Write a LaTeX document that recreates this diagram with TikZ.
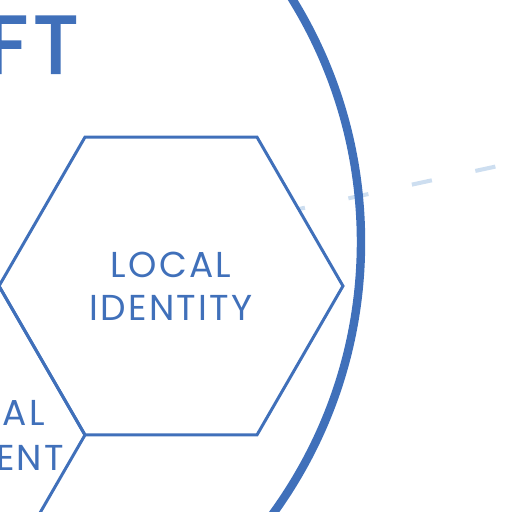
\documentclass[tikz,border=0pt]{standalone}
\usepackage{fontspec}
\setmainfont{Poppins}
\usepackage{tikz}
\usetikzlibrary{shapes.geometric}
\definecolor{inkblue}{RGB}{64,112,186}
\definecolor{paleblue}{RGB}{205,222,240}
\tikzset{
  hexcell/.style={draw=inkblue, line width=1.7pt, regular polygon, regular polygon sides=6,
       minimum size=6.88cm, inner sep=0pt, outer sep=0pt, text=inkblue,
       font=\addfontfeatures{LetterSpace=6}\fontsize{20.5pt}{24.5pt}\selectfont, align=center},
  ringline/.style={draw=inkblue, line width=4.8pt},
  rayline/.style={paleblue, line width=2.3pt, dash pattern=on 11.66pt off 25.3pt, dash phase=8.2pt},
  cuttext/.style={text=inkblue, inner sep=0pt, anchor=base east,
       font=\addfontfeatures{LetterSpace=6}\fontsize{20.5pt}{25.5pt}\selectfont}
}
\begin{document}
\begin{tikzpicture}[x=0.02cm, y=-0.02cm]
\clip (0,0) rectangle (512,512);

\coordinate (rayA) at (299,209);
\coordinate (rayB) at (512,163);
\draw[rayline] (rayA) -- (rayB);

\coordinate (hub) at (-102,242);
\draw[ringline] (hub) circle[radius=463];

\node[hexcell] (local) at (171,286) {LOCAL\\IDENTITY};
\node[hexcell] (neighbour) at (-87,435) {};
\node[cuttext] (nbtop) at (45,425) {AL};
\node[cuttext] (nbbottom) at (64,470) {ENT};

\node[text=inkblue, inner sep=0pt, anchor=base east,
      font=\addfontfeatures{LetterSpace=8, FakeBold=3}\fontsize{46pt}{52pt}\selectfont] (title) at (78,73) {FT};
\end{tikzpicture}
\end{document}
